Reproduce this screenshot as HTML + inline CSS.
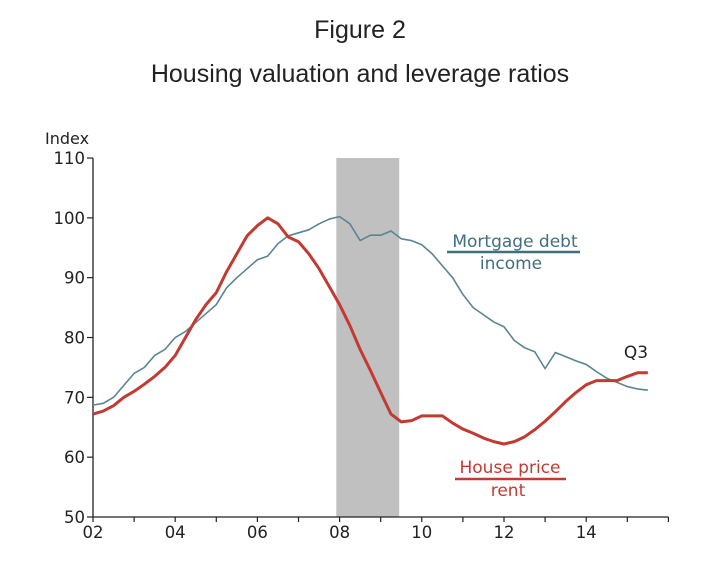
<!DOCTYPE html>
<html><head><meta charset="utf-8"><style>
body{margin:0;background:#fff;width:720px;height:581px;overflow:hidden}
svg text{font-family:"DejaVu Sans","Liberation Sans",sans-serif}
.t{font-family:"Liberation Sans",sans-serif;font-size:25px;fill:#222}
</style></head><body>
<svg id="c" width="720" height="581">
<text class="t" x="360" y="38" text-anchor="middle">Figure 2</text>
<text class="t" x="360" y="82" text-anchor="middle">Housing valuation and leverage ratios</text>
</svg>
<script>
const mortYears=[2002,2002.25,2002.5,2002.75,2003,2003.25,2003.5,2003.75,2004,2004.25,2004.5,2004.75,2005,2005.25,2005.5,2005.75,2006,2006.25,2006.5,2006.75,2007,2007.25,2007.5,2007.75,2008,2008.25,2008.5,2008.75,2009,2009.25,2009.5,2009.75,2010,2010.25,2010.5,2010.75,2011,2011.25,2011.5,2011.75,2012,2012.25,2012.5,2012.75,2013,2013.25,2013.5,2013.75,2014,2014.25,2014.5,2014.75,2015,2015.25,2015.5];
const mortValues=[68.7,69,70,72,74,75,77,78,80,81,82.5,84,85.5,88.3,90,91.5,93,93.6,95.7,97,97.5,98,99,99.8,100.2,99,96.2,97.1,97.1,97.8,96.5,96.2,95.5,94,92,90,87.2,85,83.8,82.6,81.8,79.5,78.3,77.6,74.8,77.5,76.8,76.1,75.5,74.3,73.2,72.5,71.8,71.4,71.2];
const houseYears=[2002,2002.25,2002.5,2002.75,2003,2003.25,2003.5,2003.75,2004,2004.25,2004.5,2004.75,2005,2005.25,2005.5,2005.75,2006,2006.25,2006.5,2006.75,2007,2007.25,2007.5,2007.75,2008,2008.25,2008.5,2008.75,2009,2009.25,2009.5,2009.75,2010,2010.5,2010.75,2011,2011.25,2011.5,2011.75,2012,2012.25,2012.5,2012.75,2013,2013.25,2013.5,2013.75,2014,2014.25,2014.5,2014.75,2015,2015.25,2015.5];
const houseValues=[67.2,67.7,68.6,70,71,72.2,73.5,75,77,80,83,85.5,87.5,91,94,97,98.7,100,99,96.8,96,94,91.5,88.5,85.5,82,78,74.5,70.8,67.2,65.9,66.1,66.9,66.9,65.7,64.7,64,63.2,62.6,62.2,62.6,63.4,64.6,66,67.6,69.3,70.8,72.1,72.8,72.8,72.8,73.5,74.1,74.1];
const yTicks=[50,60,70,80,90,100,110];
const xTickLabels=["02","04","06","08","10","12","14"];
const recession=[2007.92,2009.45];

const NS="http://www.w3.org/2000/svg",svg=document.getElementById('c');
const X=y=>93+(y-2002)*41.1, Y=v=>517-(v-50)*5.983;
function mk(tag,a,txt){const e=document.createElementNS(NS,tag);for(const k in a)e.setAttribute(k,a[k]);if(txt!=null)e.textContent=txt;svg.appendChild(e);return e;}
let r=mk('rect',{x:X(recession[0]),y:Y(110),width:X(recession[1])-X(recession[0]),height:Y(50)-Y(110),fill:'#c0c0c0'});


let ax=mk('line',{x1:93,y1:Y(110),x2:93,y2:517,stroke:'#222','stroke-width':1.3});


let xx=mk('line',{x1:93,y1:517,x2:X(2016),y2:517,stroke:'#222','stroke-width':1.3});


yTicks.forEach(v=>{
 let t=mk('line',{x1:87,y1:Y(v),x2:93,y2:Y(v),stroke:'#222','stroke-width':1.2});
 
 
 let l=mk('text',{x:85,y:Y(v)+6,'text-anchor':'end','font-size':16.5,fill:'#222'},v);
 
 
});
for(let yr=2002;yr<=2016;yr++){
 let t=mk('line',{x1:X(yr),y1:517,x2:X(yr),y2:522,stroke:'#222','stroke-width':1.2});
 
 
}
xTickLabels.forEach((s,i)=>{
 let l=mk('text',{x:X(2002+2*i),y:538,'text-anchor':'middle','font-size':16.5,fill:'#222'},s);
 
 
});
let il=mk('text',{x:45,y:144,'font-size':16,fill:'#222'},'Index');


function line(xs,vs,col,w,name){
 let p=mk('polyline',{points:xs.map((x,i)=>X(x)+','+Y(vs[i])).join(' '),fill:'none',stroke:col,'stroke-width':w,'stroke-linejoin':'round'});
 
 
}
line(mortYears,mortValues,'#5a8593',1.6,'mortgage-debt-income-line');
line(houseYears,houseValues,'#c23a32',3,'house-price-rent-line');
function lab(x,y,s,col,name){let t=mk('text',{x:x,y:y,'text-anchor':'middle','font-size':17,fill:col},s);}
lab(515,247,'Mortgage debt','#416f80','mortgage-label-numerator');
let l1=mk('line',{x1:447,y1:252,x2:580,y2:252,stroke:'#416f80','stroke-width':2.5});


lab(511,269,'income','#416f80','mortgage-label-denominator');
lab(510,473,'House price','#c23a32','house-label-numerator');
let l2=mk('line',{x1:455,y1:479,x2:566,y2:479,stroke:'#c23a32','stroke-width':2.5});


lab(508,496,'rent','#c23a32','house-label-denominator');
lab(636,358,'Q3','#222','q3-label');
</script>
</body></html>
